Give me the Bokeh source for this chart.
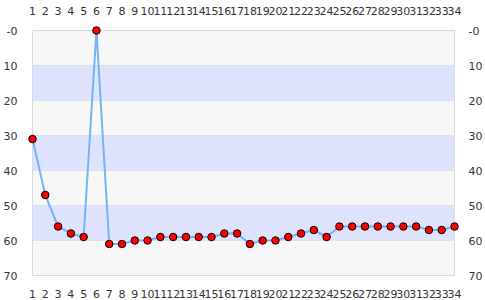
from bokeh.plotting import figure
from bokeh.models import Range1d, LinearAxis, FixedTicker, BoxAnnotation
from bokeh.embed import file_html
from bokeh.resources import INLINE

categories = list(range(1, 35))
values = [31, 47, 56, 58, 59, 0, 61, 61, 60, 60, 59, 59, 59, 59, 59, 58, 58, 61,
          60, 60, 59, 58, 57, 59, 56, 56, 56, 56, 56, 56, 56, 57, 57, 56]
y_ticks = [0, 10, 20, 30, 40, 50, 60, 70]
band_edges = [(10, 20), (30, 40), (50, 60)]

p = figure(width=485, height=300, output_backend="svg", toolbar_location=None,
           x_range=Range1d(1, 34), y_range=Range1d(70, 0),
           x_axis_location="below", y_axis_location="left",
           min_border_left=30, min_border_right=30, min_border_top=30, min_border_bottom=25)
p.background_fill_color = "#f7f7f7"
p.border_fill_color = "white"
p.outline_line_color = "#d8d8d8"

for b0, b1 in band_edges:
    p.add_layout(BoxAnnotation(bottom=b0, top=b1, fill_color="#dde3fd", fill_alpha=1.0,
                               line_color=None, level="underlay"))

p.xgrid.visible = False
p.ygrid.ticker = FixedTicker(ticks=y_ticks)
p.ygrid.grid_line_color = "#dddddd"

def style(ax, ticks, standoff):
    ax.ticker = FixedTicker(ticks=ticks)
    ax.axis_line_color = None
    ax.major_tick_line_color = None
    ax.minor_tick_line_color = None
    ax.major_label_text_font = "DejaVu Sans"
    ax.major_label_text_font_size = "11px"
    ax.major_label_text_color = "#333333"
    ax.major_label_standoff = standoff

style(p.xaxis[0], categories, 8)
style(p.yaxis[0], y_ticks, 9)
p.yaxis[0].major_label_overrides = {0: "-0"}

top_ax = LinearAxis()
style(top_ax, categories, 10)
p.add_layout(top_ax, "above")
right_ax = LinearAxis()
style(right_ax, y_ticks, 8)
right_ax.major_label_overrides = {0: "-0"}
p.add_layout(right_ax, "right")

p.line(categories, values, line_color="#72b4f5", line_width=2)
p.scatter(categories, values, size=7.5, fill_color="red", line_color="black", line_width=1,
          level="overlay")

open("out.html", "w").write(file_html(p, INLINE))
